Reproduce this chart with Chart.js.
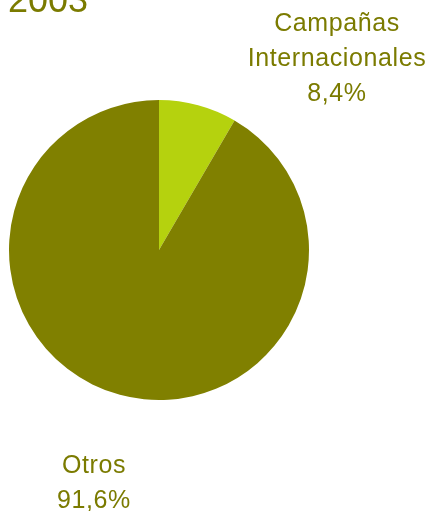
<!DOCTYPE html>
<html lang="es">
<head>
  <meta charset="UTF-8" />
  <title>2003</title>
  <script src="https://cdn.jsdelivr.net/npm/chart.js"></script>
  <style>
    * { margin: 0; padding: 0; box-sizing: border-box; }
    body { background: #ffffff; width: 433px; height: 511px; overflow: hidden; }
    .chart-box { position: relative; width: 433px; height: 511px; }
  </style>
</head>
<body>
  <div class="chart-box">
    <canvas id="pieChart"></canvas>
  </div>

  <script>
    // datos
    const year = '2003';
    const categories = ['Campañas Internacionales', 'Otros'];
    const shares = [8.4, 91.6];
    const sliceColors = ['#b5d20e', '#808000'];

    const textColor = '#7b7b00';
    const labelFont = "25px 'Liberation Sans', Arial, sans-serif";

    // where each label block sits, measured from the pie centre
    const labelOffsets = [
      { dx: 178, dy: -193 },
      { dx: -65, dy: 231 }
    ];

    const fmt = v => v.toFixed(1).replace('.', ',') + '%';

    const pieLabels = {
      id: 'pieLabels',
      afterDraw(chart) {
        const ctx = chart.ctx;
        const arc = chart.getDatasetMeta(0).data[0];
        const cx = arc.x, cy = arc.y;

        ctx.save();
        ctx.fillStyle = textColor;

        // title, partly above the top edge
        ctx.font = "36px 'Liberation Sans', Arial, sans-serif";
        ctx.textAlign = 'left';
        ctx.textBaseline = 'alphabetic';
        ctx.fillText(year, 8, 12);

        ctx.font = labelFont;
        ctx.letterSpacing = '0.6px';
        ctx.textAlign = 'center';
        const lineH = 35, capH = 18;
        categories.forEach((name, i) => {
          const lines = name.split(' ').concat(fmt(shares[i]));
          const blockH = (lines.length - 1) * lineH + capH;
          const x = cx + labelOffsets[i].dx;
          let y = cy + labelOffsets[i].dy - blockH / 2 + capH;
          lines.forEach(t => {
            ctx.fillText(t, x, y);
            y += lineH;
          });
        });
        ctx.restore();
      }
    };

    new Chart(document.getElementById('pieChart'), {
      type: 'pie',
      data: {
        labels: categories,
        datasets: [{
          data: shares,
          backgroundColor: sliceColors,
          borderWidth: 0
        }]
      },
      options: {
        responsive: true,
        maintainAspectRatio: false,
        animation: false,
        layout: { padding: { left: 9, right: 124, top: 100, bottom: 111 } },
        plugins: {
          legend: { display: false },
          tooltip: { enabled: false }
        }
      },
      plugins: [pieLabels]
    });
  </script>
</body>
</html>
